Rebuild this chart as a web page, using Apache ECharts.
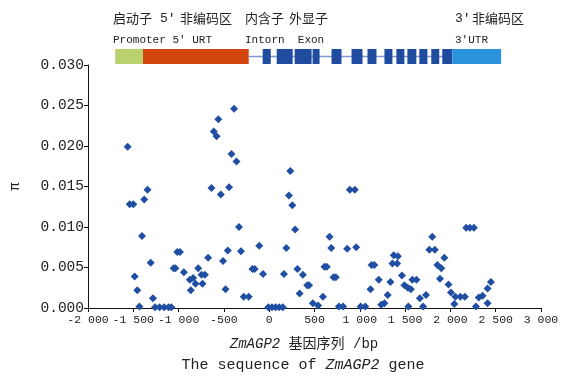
<!DOCTYPE html>
<html>
<head>
<meta charset="utf-8">
<script src="https://cdn.jsdelivr.net/npm/echarts@6/dist/echarts.min.js"></script>
<style>html,body{margin:0;padding:0;background:#fff}#c{width:562px;height:376px}</style>
</head>
<body>
<div id="c"></div>
<script>
// ---- data: position along ZmAGP2 (bp) and nucleotide diversity (pi) ----
const posBp = [
 -1562,-1540,-1500,-1379,-1343,-1404,-1308,-1485,-1456,-1283,-1432,
 -1260,-1210,-1160,-1110,-1080,-1015,-985,-1055,-1035,-942,-784,-876,-839,-813,-747,-710,-736,-865,
 -674,-637,-611,-581,-562,-534,-443,-388,-416,-361,-333,-509,-457,-312,-482,-281,-226,-110,-185,-160,-68,
 233,218,255,286,189,163,312,372,420,440,336,482,540,-10,30,70,110,150,
 666,685,861,960,890,945,610,635,710,735,593,770,815,1010,1060,1130,1160,1118,1209,1308,1272,1236,
 1375,1420,1360,1412,1338,1465,1492,1530,1564,1580,1625,1536,1663,1731,1698,
 1800,1768,1828,1933,1856,1900,1885,1979,2006,2055,2110,2160,2043,2175,2215,2260,2282,2313,2355,2410,2410,2447
];
const piVal = [
 0.0199,0.0128,0.0128,0.0134,0.0146,0.0089,0.0056,0.0039,0.0022,0.0012,0.0002,
 0.0001,0.0001,0.0001,0.0001,0.0001,0.0069,0.0069,0.0049,0.0049,0.0044,0.0049,0.0035,0.0037,0.0030,0.0041,0.0041,0.0030,0.0022,
 0.0062,0.0148,0.0218,0.0212,0.0233,0.0140,0.0149,0.0246,0.0190,0.0181,0.0100,0.0058,0.0071,0.0070,0.0023,0.0014,0.0014,0.0077,0.0048,0.0048,0.0042,
 0.0169,0.0139,0.0127,0.0097,0.0074,0.0042,0.0048,0.0041,0.0028,0.0028,0.0018,0.0006,0.0003,0.0001,0.0001,0.0001,0.0001,0.0001,
 0.0088,0.0074,0.0073,0.0075,0.0146,0.0146,0.0051,0.0051,0.0038,0.0038,0.0014,0.0002,0.0002,0.0002,0.0002,0.0053,0.0053,0.0023,0.0035,0.0016,0.0006,0.0004,
 0.0065,0.0064,0.0055,0.0055,0.0032,0.0040,0.0028,0.0025,0.0023,0.0035,0.0035,0.0002,0.0012,0.0016,0.0002,
 0.0088,0.0072,0.0072,0.0062,0.0053,0.0049,0.0036,0.0029,0.0019,0.0014,0.0014,0.0014,0.0005,0.0099,0.0099,0.0099,0.0002,0.0013,0.0015,0.0006,0.0024,0.0032
];
// gene structure (bp)
const promoter = [-1700, -1393];
const utr5 = [-1393, -226];
const intronSpan = [-226, 2021];
const exonStart = [-72, 83, 281, 479, 688, 909, 1085, 1272, 1404, 1525, 1657, 1789, 1910];
const exonEnd   = [ 17, 259, 468, 556, 798, 1030, 1184, 1360, 1492, 1624, 1746, 1877, 2021];
const utr3 = [2021, 2560];
// axis ticks
const xTicks = { min: -2000, max: 3000, step: 500 };
const yTicks = { min: 0, max: 0.030, step: 0.005 };

const MONO = '"Liberation Mono","Noto Sans CJK SC",monospace';
const CJK = '"Noto Sans CJK SC","Liberation Mono",sans-serif';
const scatterData = posBp.map((x, i) => [x, piVal[i]]);

const geneData = [];
geneData.push([intronSpan[0], intronSpan[1], 0]);
geneData.push([promoter[0], promoter[1], 1]);
geneData.push([utr5[0], utr5[1], 2]);
exonStart.forEach((s, i) => geneData.push([s, exonEnd[i], 3]));
geneData.push([utr3[0], utr3[1], 4]);
const geneColors = ['#7f97d2', '#b9d26d', '#d2450f', '#1f4c9f', '#2b93dc'];

function fmtX(v) {
  const s = String(Math.abs(v));
  const t = s.length > 3 ? s.slice(0, -3) + ' ' + s.slice(-3) : s;
  return (v < 0 ? '-' : '') + t;
}

const chart = echarts.init(document.getElementById('c'), null, { renderer: 'canvas' });
const txt = (x, y, s, f) => ({ type: 'text', left: x, top: y, style: { text: s, font: f, fill: '#222' } });
chart.setOption({
  animation: false,
  backgroundColor: '#fff',
  grid: [
    { left: 88, right: 21, top: 65, bottom: 68 },
    { left: 88, right: 21, top: 49, height: 15 }
  ],
  xAxis: [
    {
      gridIndex: 0, type: 'value', min: xTicks.min, max: xTicks.max, interval: xTicks.step,
      axisLine: { show: true, onZero: false, lineStyle: { color: '#111', width: 1 } },
      axisTick: { show: true, inside: false, length: 4, lineStyle: { color: '#111' } },
      splitLine: { show: false },
      axisLabel: { color: '#222', fontFamily: MONO, fontSize: 11.5, margin: 6, formatter: fmtX }
    },
    { gridIndex: 1, type: 'value', min: xTicks.min, max: xTicks.max, show: false }
  ],
  yAxis: [
    {
      gridIndex: 0, type: 'value', min: yTicks.min, max: yTicks.max, interval: yTicks.step,
      name: 'π', nameLocation: 'middle', nameGap: 66, nameRotate: 90,
      nameTextStyle: { color: '#222', fontFamily: MONO, fontSize: 14 },
      axisLine: { show: true, onZero: false, lineStyle: { color: '#111', width: 1 } },
      axisTick: { show: true, inside: false, length: 4, lineStyle: { color: '#111' } },
      splitLine: { show: false },
      axisLabel: { color: '#222', fontFamily: MONO, fontSize: 14.5, margin: 4,
        formatter: v => v.toFixed(3) }
    },
    { gridIndex: 1, type: 'value', min: 0, max: 1, show: false }
  ],
  series: [
    {
      type: 'custom', xAxisIndex: 1, yAxisIndex: 1, data: geneData, silent: true,
      renderItem: function (params, api) {
        const a = api.coord([api.value(0), 1]);
        const b = api.coord([api.value(1), 0]);
        const k = api.value(2);
        if (k === 0) {
          const m = (a[1] + b[1]) / 2;
          return { type: 'line', shape: { x1: a[0], y1: m, x2: b[0], y2: m },
            style: { stroke: geneColors[0], lineWidth: 1.5 } };
        }
        return { type: 'rect', shape: { x: a[0], y: a[1], width: b[0] - a[0], height: b[1] - a[1] },
          style: { fill: geneColors[k] } };
      }
    },
    {
      type: 'scatter', xAxisIndex: 0, yAxisIndex: 0, data: scatterData,
      symbol: 'diamond', symbolSize: 8,
      itemStyle: { color: '#1f4ea3', opacity: 1 }
    }
  ],
  graphic: [
    txt(113, 12, '启动子', '13px ' + CJK),
    txt(160, 12, '5′', '13px ' + MONO),
    txt(180, 12, '非编码区', '13px ' + CJK),
    txt(113, 35, 'Promoter 5′ URT', '11px ' + MONO),
    txt(245, 12, '内含子', '13px ' + CJK),
    txt(289, 12, '外显子', '13px ' + CJK),
    txt(245, 35, 'Intorn  Exon', '11px ' + MONO),
    txt(455, 12, '3′', '13px ' + MONO),
    txt(472, 12, '非编码区', '13px ' + CJK),
    txt(455, 35, '3′UTR', '11px ' + MONO),
    { type: 'text', x: 304, y: 344, style: {
        text: '{i|ZmAGP2} 基因序列 /bp', align: 'center', verticalAlign: 'middle', fill: '#222',
        font: '14px ' + MONO,
        rich: { i: { fontStyle: 'italic', fontFamily: MONO, fontSize: 14 } } } },
    { type: 'text', x: 303, y: 365, style: {
        text: 'The sequence of {i|ZmAGP2} gene', align: 'center', verticalAlign: 'middle', fill: '#222',
        font: '15px ' + MONO,
        rich: { i: { fontStyle: 'italic', fontFamily: MONO, fontSize: 15 } } } }
  ]
});
</script>
</body>
</html>
